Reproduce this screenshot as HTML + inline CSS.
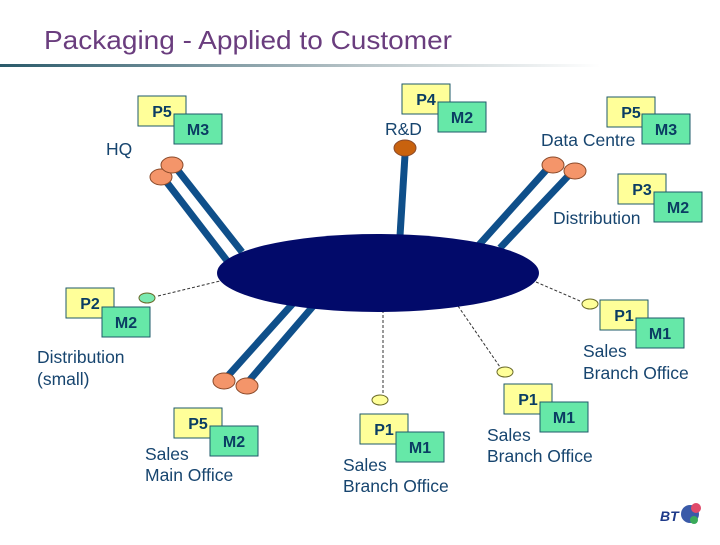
<!DOCTYPE html>
<html><head><style>
body{margin:0;width:720px;height:540px;background:#fff;overflow:hidden}
svg text{font-family:"Liberation Sans",Arial,sans-serif}
.l{fill:#17456f;font-size:17.5px}
.b{font-weight:bold;font-size:16px;fill:#0b3d63;text-anchor:middle}
.p{fill:#ffff99;stroke:#1e5a6a;stroke-width:1}
.m{fill:#66e8a8;stroke:#1e5a6a;stroke-width:1}
</style></head><body>
<svg width="720" height="540" xmlns="http://www.w3.org/2000/svg">
<defs><linearGradient id="g" x1="0" x2="1"><stop offset="0" stop-color="#2a5a6a"/><stop offset="0.6" stop-color="#b8c4c8"/><stop offset="1" stop-color="#fff"/></linearGradient></defs>
<text x="44" y="49" textLength="408" lengthAdjust="spacingAndGlyphs" style="font-size:26px;fill:#6a3d7e">Packaging - Applied to Customer</text>
<rect x="0" y="64" width="600" height="3" fill="url(#g)"/>
<g stroke="#0f4f8a" stroke-width="7" fill="none">
<line x1="165" y1="180" x2="228" y2="262"/><line x1="176" y1="168" x2="242" y2="252"/>
<line x1="405" y1="155" x2="400" y2="236"/>
<line x1="548" y1="168" x2="478" y2="246"/><line x1="570" y1="174" x2="500" y2="248"/>
<line x1="226" y1="378" x2="296" y2="300"/><line x1="248" y1="382" x2="315" y2="304"/>
</g>
<g stroke="#333" stroke-width="1" stroke-dasharray="3,2" fill="none">
<line x1="158" y1="296" x2="220" y2="281"/><line x1="536" y1="282" x2="580" y2="301"/>
<line x1="458" y1="306" x2="500" y2="367"/><line x1="383" y1="310" x2="383" y2="393"/>
</g>
<ellipse cx="378" cy="273" rx="161" ry="39" fill="#020a6a"/>
<g stroke="#8a4a2a" stroke-width="1">
<ellipse cx="161" cy="177" rx="11" ry="8" fill="#f4956a"/><ellipse cx="172" cy="165" rx="11" ry="8" fill="#f4956a"/>
<ellipse cx="405" cy="148" rx="11" ry="8" fill="#c8620e"/>
<ellipse cx="553" cy="165" rx="11" ry="8" fill="#f4956a"/><ellipse cx="575" cy="171" rx="11" ry="8" fill="#f4956a"/>
<ellipse cx="224" cy="381" rx="11" ry="8" fill="#f4956a"/><ellipse cx="247" cy="386" rx="11" ry="8" fill="#f4956a"/>
</g>
<g stroke="#6a6a2a" stroke-width="1">
<ellipse cx="147" cy="298" rx="8" ry="5" fill="#7aeab0"/>
<ellipse cx="590" cy="304" rx="8" ry="5" fill="#ffff99"/>
<ellipse cx="505" cy="372" rx="8" ry="5" fill="#ffff99"/>
<ellipse cx="380" cy="400" rx="8" ry="5" fill="#ffff99"/>
</g>
<g>
<rect class="p" x="138" y="96" width="48" height="30"/><rect class="m" x="174" y="114" width="48" height="30"/><text class="b" x="162" y="117">P5</text><text class="b" x="198" y="135">M3</text>
<rect class="p" x="402" y="84" width="48" height="30"/><rect class="m" x="438" y="102" width="48" height="30"/><text class="b" x="426" y="105">P4</text><text class="b" x="462" y="123">M2</text>
<rect class="p" x="607" y="97" width="48" height="30"/><rect class="m" x="642" y="114" width="48" height="30"/><text class="b" x="631" y="118">P5</text><text class="b" x="666" y="135">M3</text>
<rect class="p" x="618" y="174" width="48" height="30"/><rect class="m" x="654" y="192" width="48" height="30"/><text class="b" x="642" y="195">P3</text><text class="b" x="678" y="213">M2</text>
<rect class="p" x="600" y="300" width="48" height="30"/><rect class="m" x="636" y="318" width="48" height="30"/><text class="b" x="624" y="321">P1</text><text class="b" x="660" y="339">M1</text>
<rect class="p" x="66" y="288" width="48" height="30"/><rect class="m" x="102" y="307" width="48" height="30"/><text class="b" x="90" y="309">P2</text><text class="b" x="126" y="328">M2</text>
<rect class="p" x="174" y="408" width="48" height="30"/><rect class="m" x="210" y="426" width="48" height="30"/><text class="b" x="198" y="429">P5</text><text class="b" x="234" y="447">M2</text>
<rect class="p" x="360" y="414" width="48" height="30"/><rect class="m" x="396" y="432" width="48" height="30"/><text class="b" x="384" y="435">P1</text><text class="b" x="420" y="453">M1</text>
<rect class="p" x="504" y="384" width="48" height="30"/><rect class="m" x="540" y="402" width="48" height="30"/><text class="b" x="528" y="405">P1</text><text class="b" x="564" y="423">M1</text>
</g>
<text class="l" x="106" y="155">HQ</text>
<text class="l" x="385" y="135">R&amp;D</text>
<text class="l" x="541" y="146">Data Centre</text>
<text class="l" x="553" y="224">Distribution</text>
<text class="l" x="583" y="357">Sales</text><text class="l" x="583" y="379">Branch Office</text>
<text class="l" x="37" y="363">Distribution</text><text class="l" x="37" y="385">(small)</text>
<text class="l" x="145" y="460">Sales</text><text class="l" x="145" y="481">Main Office</text>
<text class="l" x="343" y="471">Sales</text><text class="l" x="343" y="492">Branch Office</text>
<text class="l" x="487" y="441">Sales</text><text class="l" x="487" y="462">Branch Office</text>
<text x="660" y="521" style="font-size:14px;font-weight:bold;fill:#1e3a8a;font-style:italic">BT</text>
<circle cx="690" cy="514" r="9" fill="#3a5aa8"/><circle cx="696" cy="508" r="5" fill="#e04a6a"/><circle cx="694" cy="520" r="4" fill="#3aaa5a"/>
</svg>
</body></html>
